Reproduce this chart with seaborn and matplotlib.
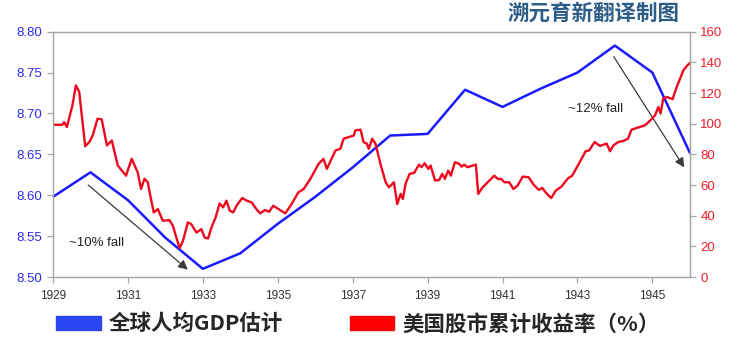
import numpy as np
import matplotlib
matplotlib.use("Agg")
import matplotlib.pyplot as plt
from matplotlib.patches import Patch
import seaborn as sns
import pandas as pd

# 全球人均GDP估计 (左轴, 对数)
gdp_year = [1929, 1930, 1931, 1932, 1933, 1934, 1935, 1936, 1937, 1938,
            1939, 1940, 1941, 1942, 1943, 1944, 1945, 1946]
gdp_val = [8.598, 8.628, 8.594, 8.548, 8.510, 8.529, 8.565, 8.598, 8.634, 8.673,
           8.675, 8.729, 8.708, 8.730, 8.750, 8.783, 8.750, 8.652]

# 美国股市累计收益率 (%) (右轴)
stock_year = [1929.03, 1929.25, 1929.30, 1929.37, 1929.52, 1929.61, 1929.70, 1929.86, 1929.97, 1930.06,
              1930.19, 1930.30, 1930.44, 1930.57, 1930.73, 1930.95, 1931.10, 1931.26, 1931.35, 1931.44,
              1931.53, 1931.58, 1931.69, 1931.80, 1931.93, 1932.11, 1932.20, 1932.38, 1932.47, 1932.60,
              1932.69, 1932.83, 1932.96, 1933.05, 1933.14, 1933.23, 1933.34, 1933.45, 1933.54, 1933.63,
              1933.72, 1933.81, 1933.90, 1934.05, 1934.17, 1934.30, 1934.43, 1934.53, 1934.66, 1934.77,
              1934.88, 1935.20, 1935.37, 1935.55, 1935.69, 1935.87, 1936.09, 1936.22, 1936.31, 1936.54,
              1936.67, 1936.76, 1936.89, 1937.03, 1937.07, 1937.21, 1937.29, 1937.38, 1937.43, 1937.52,
              1937.61, 1937.74, 1937.88, 1937.97, 1938.10, 1938.19, 1938.28, 1938.34, 1938.41, 1938.52,
              1938.64, 1938.77, 1938.84, 1938.92, 1939.02, 1939.08, 1939.20, 1939.31, 1939.39, 1939.46,
              1939.55, 1939.62, 1939.73, 1939.84, 1939.91, 1939.98, 1940.06, 1940.29, 1940.35, 1940.47,
              1940.65, 1940.78, 1940.87, 1940.96, 1941.05, 1941.18, 1941.29, 1941.40, 1941.54, 1941.70,
              1941.83, 1941.97, 1942.06, 1942.17, 1942.30, 1942.42, 1942.57, 1942.75, 1942.86, 1943.06,
              1943.22, 1943.31, 1943.46, 1943.60, 1943.78, 1943.87, 1943.96, 1944.09, 1944.23, 1944.35,
              1944.44, 1944.58, 1944.80, 1944.94, 1945.07, 1945.16, 1945.22, 1945.29, 1945.39, 1945.54,
              1945.65, 1945.83, 1945.94, 1946.01]
stock_val = [99.3, 99.3, 101.0, 97.8, 112.0, 125.0, 120.7, 85.3, 88.0, 92.3,
             103.3, 102.8, 85.8, 89.0, 72.7, 66.1, 77.1, 68.3, 57.4, 64.0,
             61.8, 55.2, 42.1, 44.3, 36.7, 37.1, 33.4, 18.8, 23.6, 35.6,
             34.5, 29.0, 31.2, 25.7, 25.1, 32.3, 38.8, 48.0, 45.4, 49.8,
             43.2, 42.1, 46.5, 51.5, 49.8, 48.7, 44.3, 41.5, 43.7, 42.5,
             46.5, 41.5, 47.6, 55.2, 57.4, 64.0, 73.8, 77.1, 70.5, 82.5,
             83.6, 90.2, 91.2, 92.3, 95.6, 96.1, 88.0, 86.9, 83.6, 90.2,
             86.9, 73.8, 61.8, 58.5, 61.8, 47.6, 54.2, 50.9, 60.7, 67.3,
             67.9, 73.3, 71.6, 74.2, 70.5, 72.7, 62.9, 63.3, 67.3, 64.0,
             69.4, 66.1, 74.9, 73.8, 72.0, 73.3, 71.6, 73.3, 54.2, 58.5,
             62.9, 66.1, 64.0, 64.0, 61.8, 61.8, 57.4, 59.6, 65.5, 65.0,
             60.2, 56.8, 58.1, 54.6, 51.5, 56.3, 58.9, 64.4, 66.1, 74.9,
             82.1, 82.5, 88.0, 85.5, 87.0, 82.0, 85.8, 88.0, 88.8, 90.2,
             96.0, 97.2, 98.9, 102.0, 105.4, 110.9, 106.6, 116.4, 117.4, 116.0,
             124.0, 134.9, 138.2, 139.7]

year_ticks = [1929, 1931, 1933, 1935, 1937, 1939, 1941, 1943, 1945]

gdp_df = pd.DataFrame({"year": gdp_year, "gdp": gdp_val})
stock_df = pd.DataFrame({"year": stock_year, "ret": stock_val})

sns.set_style("white")
plt.rcParams["font.family"] = ["Liberation Sans", "Noto Sans CJK SC", "DejaVu Sans"]

BLUE = "#1a1aff"
RED = "#ee0a1e"
SPINE = "#a6a6a6"

fig = plt.figure(figsize=(7.37, 3.54), dpi=100)
ax = fig.add_axes([0.0719, 0.2175, 0.8641, 0.693])
ax2 = ax.twinx()

sns.lineplot(data=gdp_df, x="year", y="gdp", ax=ax, color=BLUE, linewidth=1.8)
sns.lineplot(data=stock_df, x="year", y="ret", ax=ax2, color=RED, linewidth=1.7)

ax.set_xlim(1929, 1946)
ax.set_ylim(8.50, 8.80)
ax.set_yticks(np.arange(8.50, 8.801, 0.05))
ax.set_yticklabels([f"{v:.2f}" for v in np.arange(8.50, 8.801, 0.05)])
ax2.set_ylim(0, 160)
ax2.set_yticks(range(0, 161, 20))
ax.set_xticks(year_ticks)

for a in (ax, ax2):
    a.set_xlabel("")
    a.set_ylabel("")
    for s in a.spines.values():
        s.set_color(SPINE)
        s.set_linewidth(0.9)

ax.tick_params(axis="y", colors=SPINE, labelcolor="#2b2bee", labelsize=9.5,
               length=4, width=0.9, direction="out", left=True)
ax2.tick_params(axis="y", colors=SPINE, labelcolor="#ee1c2a", labelsize=9.5,
                length=4, width=0.9, direction="out", right=True)
ax.tick_params(axis="x", colors=SPINE, labelcolor="#333333", labelsize=8.5,
               length=4, width=0.9, direction="out", bottom=True, pad=5)

# annotations
ax.annotate("", xy=(1932.60, 8.509), xytext=(1929.94, 8.6125),
            arrowprops=dict(arrowstyle="-|>", color="#3a3a3a", lw=0.9,
                            mutation_scale=14, shrinkA=0, shrinkB=0), zorder=5)
ax.text(1929.42, 8.5416, "~10% fall", fontsize=9.5, color="#222222",
        va="center", ha="left")
ax.annotate("", xy=(1945.85, 8.634), xytext=(1943.97, 8.7694),
            arrowprops=dict(arrowstyle="-|>", color="#3a3a3a", lw=0.9,
                            mutation_scale=14, shrinkA=0, shrinkB=0), zorder=5)
ax.text(1942.74, 8.705, "~12% fall", fontsize=9.5, color="#222222",
        va="center", ha="left")

fig.text(0.9226, 0.962, "溯元育新翻译制图", ha="right", va="center",
         fontsize=15.5, fontweight="bold", color="#2c5d87",
         family=["Noto Sans CJK SC", "DejaVu Sans"])

handles = [Patch(facecolor="#2a45f2", edgecolor="#2a45f2"),
           Patch(facecolor="#ff0000", edgecolor="#ff0000")]
leg = fig.legend(handles, ["全球人均GDP估计", "美国股市累计收益率（%）"],
                 loc="center left", bbox_to_anchor=(0.062, 0.085), ncol=2,
                 frameon=False, handlelength=2.05, handleheight=0.65,
                 handletextpad=0.38, columnspacing=3.1, borderpad=0,
                 prop={"family": ["Noto Sans CJK SC", "DejaVu Sans"],
                       "weight": "bold", "size": 15.5})

fig.savefig("out.png", dpi=100)
